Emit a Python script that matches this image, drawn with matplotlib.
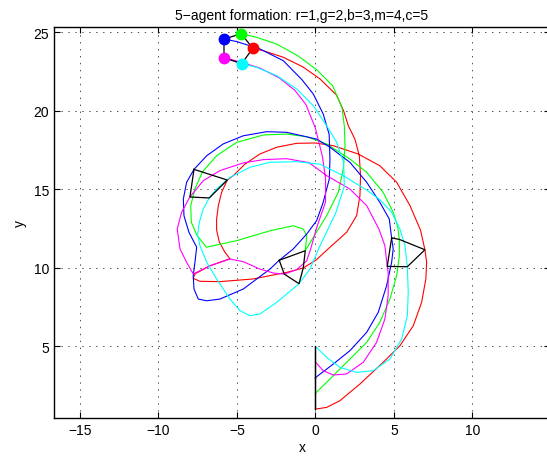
import numpy as np
import matplotlib
matplotlib.use('Agg')
import matplotlib.pyplot as plt

plt.rcParams['font.family'] = ['Liberation Sans', 'DejaVu Sans']
plt.rcParams['font.size'] = 10
plt.rcParams['lines.scale_dashes'] = False

# trajectories (x, y) for agents r, g, b, m, c
red_x = [0.00, 0.72, 1.57, 2.84, 4.32, 5.39, 6.24, 6.77, 7.04, 7.09, 6.98, 6.70, 6.03, 5.18,
         4.11, 2.73, 1.14, 0.00, -1.19, -2.46, -3.53, -4.48, -5.23, -5.61, -5.97, -6.18,
         -6.29, -6.29, -6.12, -5.76, -5.44, -6.71, -7.67, -7.78, -7.35, -6.08, -3.96, -1.83,
         -0.77, 0.05, 0.93, 1.99, 2.63, 2.84, 2.88, 2.80, 2.52, 2.10, 1.80, 1.35, 0.30,
         -0.80, -2.04, -3.32, -3.99]
red_y = [1.00, 1.11, 1.54, 2.60, 3.98, 5.04, 6.31, 7.80, 9.29, 10.35, 11.15, 12.40, 13.96, 15.45,
         16.50, 17.25, 17.78, 17.95, 17.93, 17.68, 17.25, 16.61, 15.87, 15.59, 14.81, 13.96,
         13.11, 12.40, 11.65, 10.99, 10.58, 10.13, 9.61, 9.33, 9.14, 9.12, 9.29, 9.71,
         9.99, 10.50, 11.31, 12.26, 13.32, 14.59, 15.87, 17.14, 18.20, 19.05, 20.00, 21.00, 22.03,
         22.80, 23.41, 23.83, 23.98]

green_x = [0.00, 1.14, 2.20, 3.27, 4.11, 4.75, 5.18, 5.35, 5.35, 5.25, 4.96, 4.32, 3.27, 2.20,
           0.72, -0.55, -1.83, -3.32, -5.01, -6.29, -7.20, -7.67, -7.94, -7.90, -7.56, -6.95,
           -5.01, -2.89, -1.41, -0.77, -0.55, -0.64, -0.13, 0.72, 1.46, 1.78, 1.89, 1.85, 1.70,
           1.10, 0.10, -1.10, -2.46, -3.74, -4.72]
green_y = [2.00, 3.13, 4.19, 5.25, 6.53, 8.01, 9.50, 10.77, 11.81, 12.60, 13.54, 14.81, 16.08, 16.93,
           17.89, 18.35, 18.52, 18.46, 17.99, 17.14, 16.10, 15.02, 13.96, 12.90, 12.10, 11.31,
           11.73, 12.36, 12.68, 12.47, 12.04, 11.09, 11.94, 13.32, 14.81, 16.29, 17.78, 19.00, 20.20,
           21.60, 22.60, 23.50, 24.25, 24.68, 24.91]

blue_x = [0.00, 1.14, 2.20, 3.27, 4.01, 4.54, 4.86, 4.96, 4.86, 4.71, 4.11, 3.27, 2.20, 0.93,
          0.08, -1.83, -3.10, -4.59, -5.87, -6.92, -7.73, -8.20, -8.41, -8.37, -8.05, -7.56,
          -7.67, -7.78, -7.73, -7.46, -6.92, -6.08, -4.59, -2.89, -2.30, -1.41, -0.55, 0.08,
          0.50, 0.89, 0.93, 0.88, 0.50, -0.13, -0.87, -2.04, -3.53, -5.01, -5.82]
blue_y = [3.00, 3.87, 4.72, 5.89, 7.17, 8.86, 10.35, 11.20, 11.90, 13.11, 14.17, 15.45, 16.72, 17.68,
          18.20, 18.63, 18.67, 18.41, 17.89, 17.14, 16.27, 15.45, 14.38, 13.32, 12.26, 11.31,
          10.35, 9.50, 8.65, 8.01, 7.90, 8.01, 8.65, 9.92, 10.48, 11.20, 12.15, 13.00,
          14.17, 15.66, 16.93, 18.50, 19.80, 21.07, 22.00, 23.19, 23.94, 24.41, 24.57]

mag_x = [0.00, 0.50, 1.14, 1.99, 3.05, 3.90, 4.43, 4.64, 4.64, 4.58, 4.43, 4.05, 3.27, 2.20,
         0.72, -0.40, -1.83, -3.32, -4.59, -6.08, -7.14, -7.99, -8.52, -8.80, -8.62, -8.20,
         -7.78, -6.71, -5.44, -4.59, -3.53, -2.68, -1.98, -1.19, -0.55, -0.30, 0.10, 0.65,
         0.65, 0.45, 0.00, -0.60, -1.30, -2.30, -3.53, -4.80, -5.82]
mag_y = [4.00, 3.45, 3.17, 3.24, 3.98, 5.25, 6.74, 8.22, 9.71, 10.09, 11.41, 12.47, 13.96, 15.02,
         15.87, 16.70, 16.95, 16.89, 16.68, 16.19, 15.55, 14.51, 13.54, 12.47, 11.20, 10.35,
         9.61, 10.13, 10.56, 10.39, 9.92, 9.67, 9.60, 9.88, 10.45, 11.20, 12.60, 14.20,
         15.70, 17.10, 18.90, 20.40, 21.30, 22.10, 22.72, 23.12, 23.38]

cyan_x = [0.00, 0.72, 1.57, 2.63, 3.69, 4.75, 5.50, 5.86, 5.92, 5.86, 5.71, 5.39, 4.85, 4.10,
          3.27, 1.78, 0.29, -1.19, -2.89, -4.17, -5.44, -6.29, -6.76, -7.14, -7.39, -7.50,
          -7.35, -6.92, -6.29, -5.44, -4.80, -4.17, -3.53, -2.46, -1.04, -0.34, 0.20, 1.30,
          1.85, 1.80, 1.36, 0.72, -0.13, -1.19, -2.46, -3.74, -4.69]
cyan_y = [5.00, 4.30, 3.66, 3.34, 3.45, 4.19, 5.46, 6.95, 8.44, 10.07, 11.41, 12.47, 13.55, 14.35,
          14.95, 15.87, 16.60, 16.76, 16.72, 16.40, 15.76, 15.02, 14.45, 13.75, 12.90, 12.10,
          11.41, 10.35, 9.29, 8.01, 7.27, 6.95, 7.06, 7.80, 8.99, 9.92, 11.20, 13.50,
          15.20, 16.70, 17.99, 19.05, 20.33, 21.39, 22.24, 22.77, 23.00]

# formation snapshots, agent order b, g, r, c, m
form_x = [[0.00, 0.00, 0.00, 0.00, 0.00],
          [4.86, 5.35, 6.98, 5.86, 4.58],
          [-7.73, -7.20, -5.61, -6.76, -7.99],
          [-2.30, -0.64, -0.77, -1.04, -1.98],
          [-5.82, -4.72, -3.99, -4.69, -5.82]]
form_y = [[3.00, 2.00, 1.00, 5.00, 4.00],
          [11.90, 11.81, 11.15, 10.07, 10.09],
          [16.27, 16.10, 15.59, 14.45, 14.51],
          [10.48, 11.09, 9.99, 8.99, 9.60],
          [24.57, 24.91, 23.98, 23.00, 23.38]]

RED, GREEN, BLUE, MAG, CYAN = '#ff0000', '#00ff00', '#0000ff', '#ff00ff', '#00ffff'
form_colors = [BLUE, GREEN, RED, CYAN, MAG]

fig = plt.figure(figsize=(5.47, 4.60), dpi=100)
ax = fig.add_axes([0.0987, 0.0883, 0.9068, 0.8509])

paths = [(red_x, red_y, RED), (green_x, green_y, GREEN), (blue_x, blue_y, BLUE),
         (mag_x, mag_y, MAG), (cyan_x, cyan_y, CYAN)]
for px, py, col in paths:
    ax.plot(px, py, color=col, linewidth=0.8)

for fx, fy in zip(form_x, form_y):
    ax.plot(fx + [fx[0]], fy + [fy[0]], color='k', linewidth=0.9)

last_x = form_x[-1]
last_y = form_y[-1]
for i in range(5):
    ax.plot(last_x[i], last_y[i], 'o', color=form_colors[i], markersize=7.5)

ax.set_xlim(-16.65, 14.95)
ax.set_ylim(0.41, 25.34)
ax.set_xticks([-15, -10, -5, 0, 5, 10])
ax.set_yticks([5, 10, 15, 20, 25])
ax.grid(True, color='0.3', linestyle=(0, (1, 4)), linewidth=0.7)
ax.tick_params(direction='in', length=4, top=True, right=True, labelsize=10)
for s in ax.spines.values():
    s.set_linewidth(1.0)

ax.set_xlabel('x', labelpad=2)
ax.set_ylabel('y', labelpad=5)
ax.set_title('5\u2212agent formation: r=1,g=2,b=3,m=4,c=5', fontsize=10, pad=6)

plt.savefig('out.png', dpi=100)
plt.close()
